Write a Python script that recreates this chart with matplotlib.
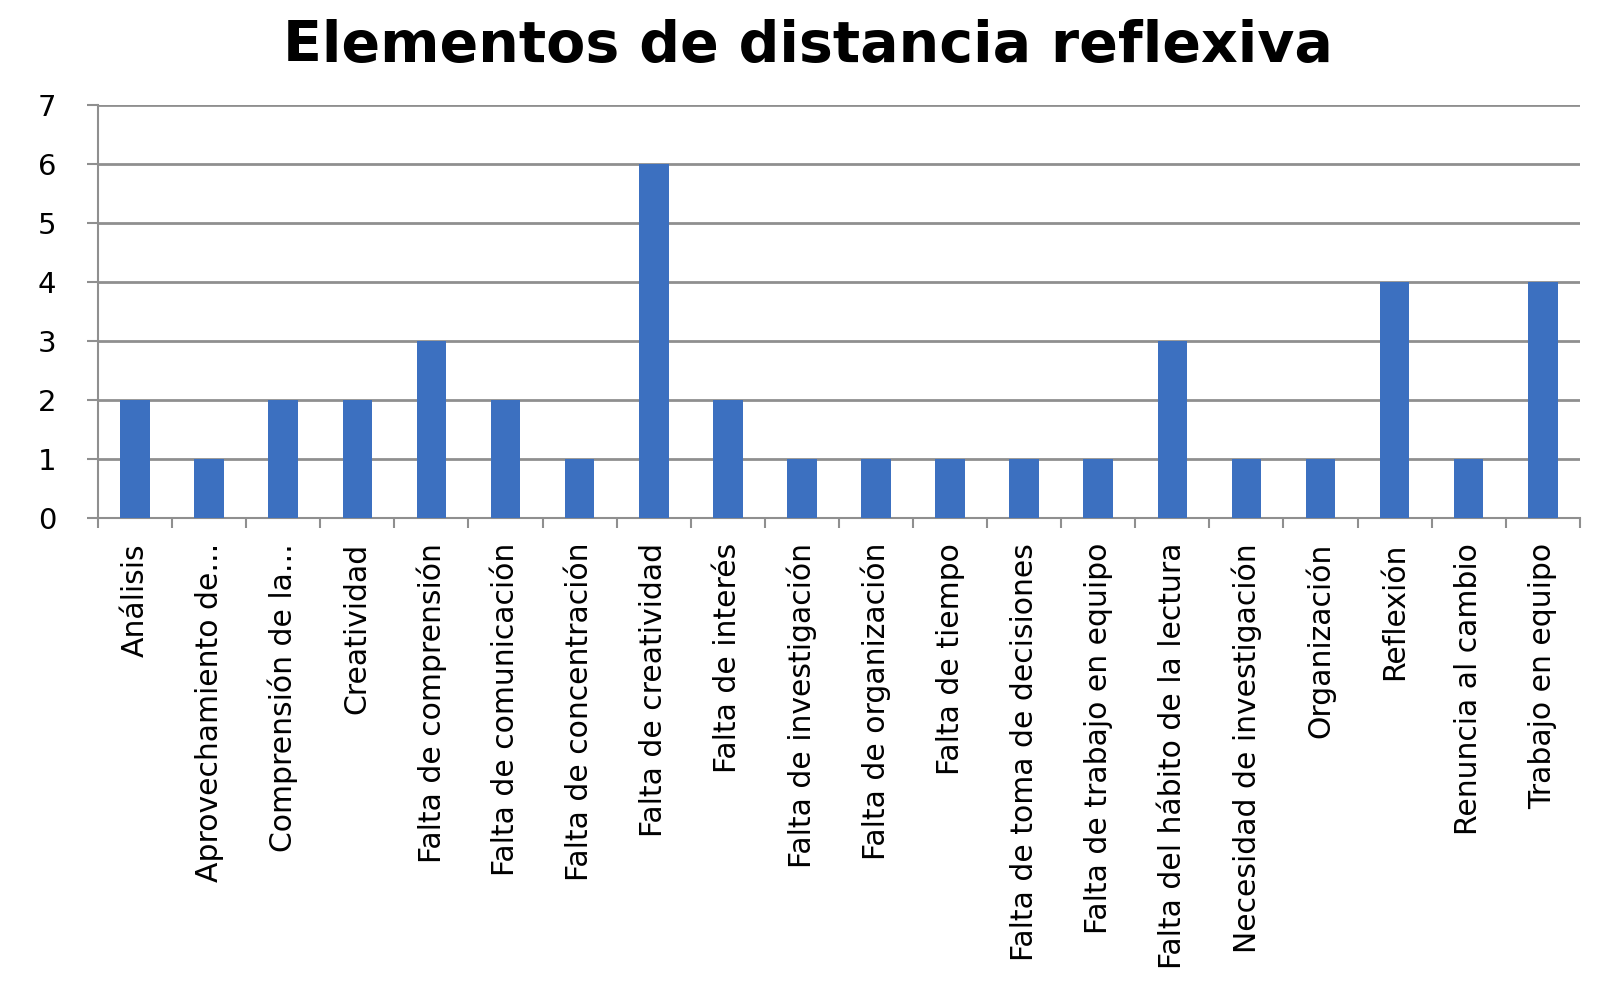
import numpy as np
import matplotlib.pyplot as plt

# categorías y valores
categorias = [
    'Análisis', 'Aprovechamiento de...', 'Comprensión de la...', 'Creatividad',
    'Falta de comprensión', 'Falta de comunicación', 'Falta de concentración',
    'Falta de creatividad', 'Falta de interés', 'Falta de investigación',
    'Falta de organización', 'Falta de tiempo', 'Falta de toma de decisiones',
    'Falta de trabajo en equipo', 'Falta del hábito de la lectura',
    'Necesidad de investigación', 'Organización', 'Reflexión',
    'Renuncia al cambio', 'Trabajo en equipo',
]
valores = [2, 1, 2, 2, 3, 2, 1, 6, 2, 1, 1, 1, 1, 1, 3, 1, 1, 4, 1, 4]
y_ticks = [0, 1, 2, 3, 4, 5, 6, 7]

plt.rcParams['font.family'] = ['DejaVu Sans']

fig = plt.figure(figsize=(15.99, 9.84), dpi=100)
ax = fig.add_axes([0.0613, 0.4736, 0.9267, 0.4197])

x = np.arange(len(categorias))
ax.bar(x, valores, width=0.4, color='#3c70c0', zorder=3)

ax.set_xlim(-0.5, len(categorias) - 0.5)
ax.set_ylim(0, 7)
ax.set_yticks(y_ticks)
ax.set_yticklabels([str(v) for v in y_ticks], fontsize=21)
ax.yaxis.grid(True, color='#8f8f8f', linewidth=2)
ax.set_axisbelow(True)

ax.set_xticks(x)
ax.set_xticklabels(categorias, rotation=90, fontsize=21.5, va='top')
ax.tick_params(axis='x', length=0, pad=18)
ax.set_xticks(np.arange(len(categorias) + 1) - 0.5, minor=True)
ax.tick_params(axis='x', which='minor', length=7, color='#8f8f8f', width=1.5)
ax.tick_params(axis='y', length=8, color='#8f8f8f', width=1.5, pad=22)

for s in ['top', 'right']:
    ax.spines[s].set_visible(False)
for s in ['left', 'bottom']:
    ax.spines[s].set_color('#8f8f8f')
    ax.spines[s].set_linewidth(1.5)

fig.text(0.505, 0.953, 'Elementos de distancia reflexiva', ha='center', va='center',
         fontsize=41, fontweight='bold')

fig.savefig('out.png', dpi=100)
